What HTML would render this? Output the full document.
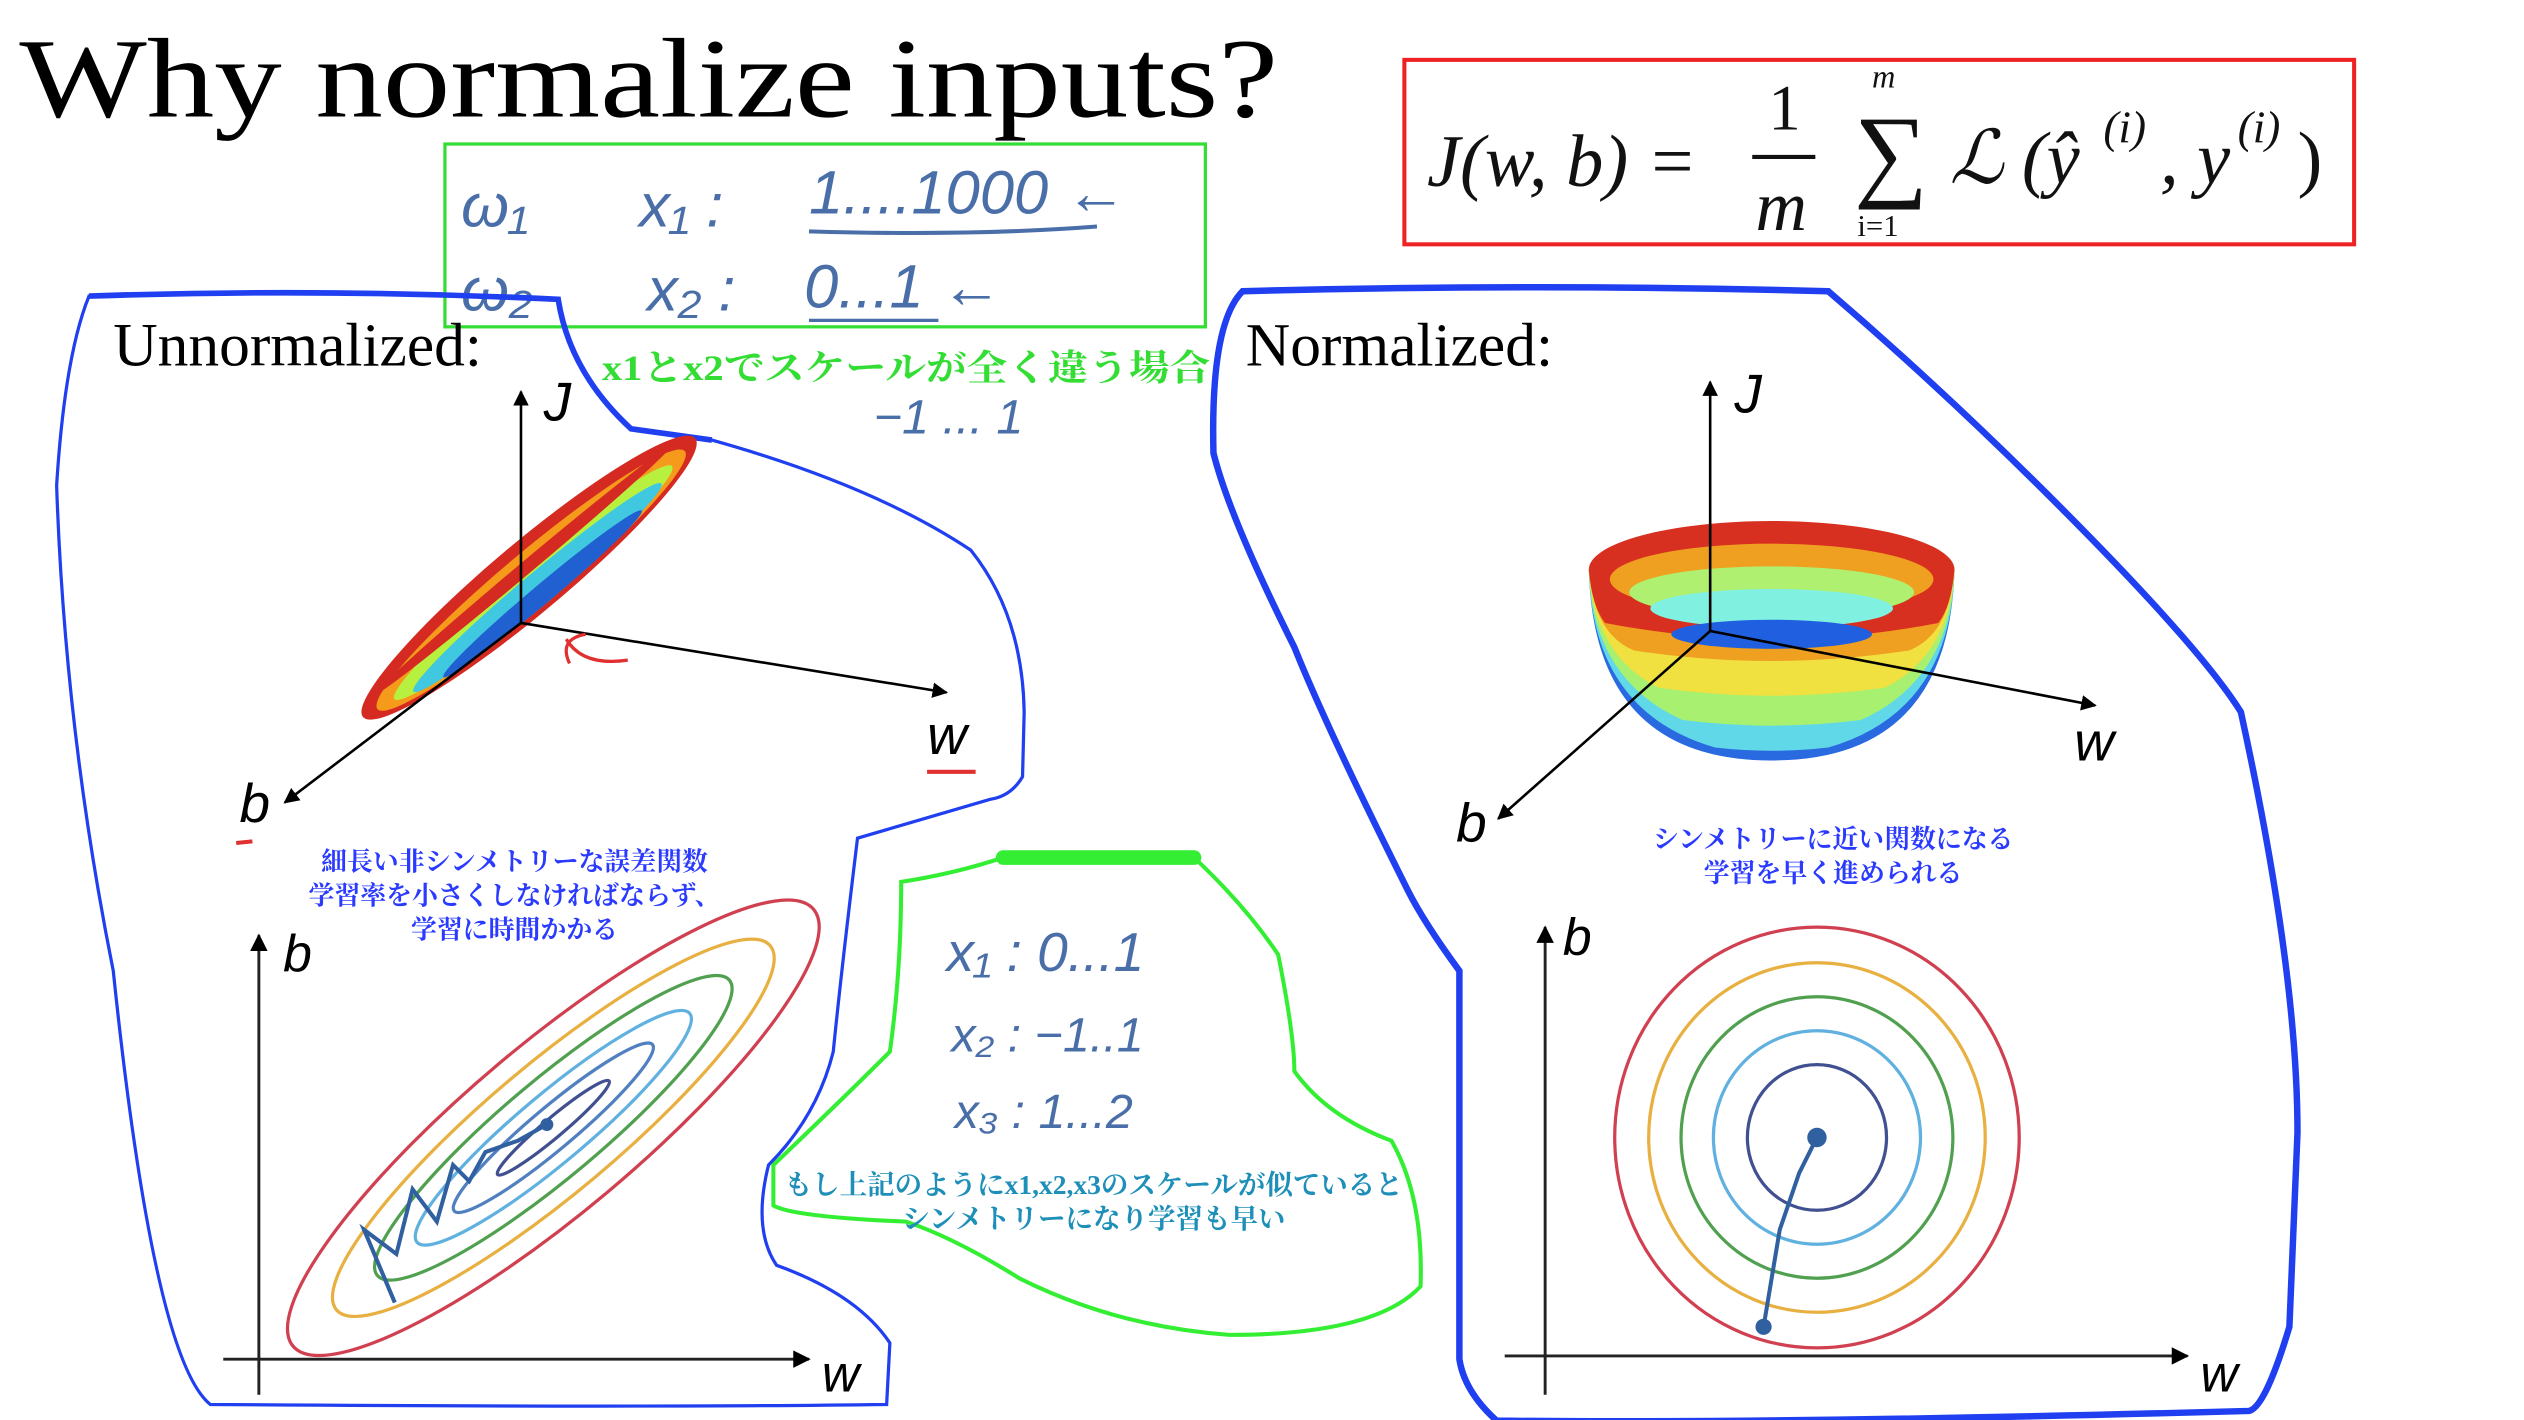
<!DOCTYPE html>
<html><head><meta charset="utf-8"><style>
html,body{margin:0;padding:0;background:#fff;}
svg{display:block;}
.jp{font-family:"Liberation Serif","Noto Serif CJK SC","Noto Sans CJK JP",serif;font-weight:bold;}
.hw{font-family:"Liberation Sans",sans-serif;fill:#4a6fa8;font-style:italic;}
</style></head><body>
<svg width="2524" height="1420" viewBox="0 0 1560 877.6" preserveAspectRatio="none" xmlns="http://www.w3.org/2000/svg">
<defs>
<marker id="ah" viewBox="0 0 10 10" refX="9" refY="5" markerWidth="6" markerHeight="6" orient="auto"><path d="M0,0 L10,5 L0,10 z" fill="#000"/></marker>
</defs>
<rect width="1560" height="877.6" fill="#fff"/>
<text x="12" y="72" font-family="Liberation Serif,serif" font-size="70" textLength="778" lengthAdjust="spacingAndGlyphs">Why normalize inputs?</text>
<rect x="868" y="37" width="587" height="114" fill="none" stroke="#ee2222" stroke-width="2.5"/>
<g font-family="Liberation Serif,serif" font-style="italic" fill="#111">
<text x="882" y="115" font-size="46">J(w, b) =</text>
<text x="1093" y="80" font-size="40" font-style="normal">1</text>
<line x1="1083" y1="97" x2="1122" y2="97" stroke="#111" stroke-width="2.5"/>
<text x="1085" y="142" font-size="44">m</text>
<text x="1146" y="116" font-size="64" font-style="normal">∑</text>
<text x="1157" y="54" font-size="20">m</text>
<text x="1148" y="146" font-size="19" font-style="normal">i=1</text>
<text x="1205" y="113" font-size="46">ℒ (ŷ</text>
<text x="1300" y="88" font-size="28">(i)</text>
<text x="1335" y="113" font-size="46">, y</text>
<text x="1383" y="88" font-size="28">(i)</text>
<text x="1420" y="113" font-size="46" font-style="normal">)</text>
</g>
<rect x="275" y="89" width="470" height="113" fill="none" stroke="#33dd33" stroke-width="2"/>
<g class="hw" font-size="38">
<text x="285" y="140">ω₁</text><text x="395" y="140">x₁ :</text><text x="500" y="132">1....1000 ←</text>
<text x="285" y="192">ω₂</text><text x="400" y="192">x₂ :</text><text x="497" y="190">0...1 ←</text>
<text x="540" y="268" font-size="30">−1 ... 1</text>
</g>
<path d="M500,143 Q600,146 678,140" stroke="#4a6fa8" stroke-width="2.5" fill="none"/>
<path d="M500,198 L580,198" stroke="#4a6fa8" stroke-width="2" fill="none"/>
<text x="372" y="235" class="jp" font-size="22" fill="#33dd33" textLength="376" lengthAdjust="spacingAndGlyphs">x1とx2でスケールが全く違う場合</text>
<path d="M55,183 Q200,178 345,185 Q352,230 390,265 L440,272 Q540,300 600,340 Q632,380 633,440 L632,480 Q625,492 612,494 L530,518 Q520,600 515,650 Q505,690 475,720 Q465,760 480,782 Q530,800 550,830 L548,868 Q400,870 130,868 Q95,840 70,600 Q40,450 35,300 Q40,220 55,183 Z" fill="none" stroke="#1f3ff0" stroke-width="2"/>
<path d="M55,183 Q200,178 345,185 Q352,230 390,265 L440,272" fill="none" stroke="#1f3ff0" stroke-width="3.5"/>
<path d="M768,180 Q950,175 1130,180 Q1200,240 1270,310 Q1360,400 1385,440 Q1420,600 1420,700 L1415,820 Q1400,870 1390,872 Q1100,880 925,878 Q905,860 902,840 L902,600 Q880,570 870,550 Q820,450 800,400 Q760,320 750,280 Q748,200 768,180 Z" fill="none" stroke="#1f3ff0" stroke-width="4"/>
<path d="M620,530 L738,530 Q770,560 790,590 Q800,640 800,662 Q820,690 860,705 Q880,740 878,795 Q850,825 760,825 Q690,820 630,790 Q590,765 560,755 Q490,752 478,745 L478,720 Q520,680 550,650 Q557,600 557,545 Q590,540 620,530 Z" fill="none" stroke="#33ee33" stroke-width="2.5"/>
<path d="M620,530 L738,530" stroke="#33ee33" stroke-width="9" stroke-linecap="round"/>
<g class="hw" font-size="34">
<text x="585" y="600">x₁ : 0...1</text>
<text x="588" y="650" font-size="30">x₂ : −1..1</text>
<text x="590" y="697" font-size="30">x₃ : 1...2</text>
</g>
<g class="jp" font-size="17" fill="#1e8fb8" text-anchor="middle">
<text x="676" y="738">もし上記のようにx1,x2,x3のスケールが似ていると</text>
<text x="676" y="759">シンメトリーになり学習も早い</text>
</g>
<text x="70" y="226" font-family="Liberation Serif,serif" font-size="38">Unnormalized:</text>
<text x="770" y="226" font-family="Liberation Serif,serif" font-size="38">Normalized:</text>
<g transform="translate(327,357) rotate(-40)">
<ellipse rx="134" ry="22" fill="#d42a22"/>
<ellipse rx="124" ry="17" cy="2" fill="#f59a1a"/>
<ellipse rx="112" ry="12" cy="4" fill="#b8f040"/>
<ellipse rx="100" ry="9" cy="8" fill="#40c8e0"/>
<ellipse rx="80" ry="6" cy="13" fill="#2060d0"/>
<ellipse rx="120" ry="4" cy="-6" fill="#d42a22"/>
</g>
<g stroke="#000" stroke-width="1.6" fill="none">
<line x1="322" y1="385" x2="322" y2="242" marker-end="url(#ah)"/>
<line x1="322" y1="385" x2="585" y2="428" marker-end="url(#ah)"/>
<line x1="322" y1="385" x2="176" y2="496" marker-end="url(#ah)"/>
</g>
<g font-family="Liberation Sans,sans-serif" font-style="italic" font-size="34">
<text x="336" y="260">J</text><text x="573" y="466">w</text><text x="148" y="508">b</text>
</g>
<path d="M352,410 Q345,395 362,392 M350,395 Q360,412 388,408" stroke="#e03030" stroke-width="2" fill="none"/>
<line x1="573" y1="477" x2="603" y2="477" stroke="#e03030" stroke-width="2.5"/>
<line x1="146" y1="521" x2="156" y2="520" stroke="#e03030" stroke-width="2.5"/>
<g class="jp" font-size="16" fill="#2a3aff" text-anchor="middle">
<text x="318" y="538">細長い非シンメトリーな誤差関数</text>
<text x="318" y="559">学習率を小さくしなければならず、</text>
<text x="318" y="580">学習に時間かかる</text>
</g>
<g stroke="#222" stroke-width="1.8" fill="none">
<line x1="160" y1="862" x2="160" y2="578" marker-end="url(#ah)"/>
<line x1="138" y1="840" x2="500" y2="840" marker-end="url(#ah)"/>
</g>
<g font-family="Liberation Sans,sans-serif" font-style="italic" font-size="32">
<text x="175" y="600">b</text><text x="508" y="860">w</text>
</g>
<g transform="translate(342,697) rotate(-40)" fill="none" stroke-width="2">
<ellipse rx="210" ry="52" stroke="#d04050"/>
<ellipse rx="175" ry="40" stroke="#e8b040"/>
<ellipse rx="142" ry="30" stroke="#50a050"/>
<ellipse rx="110" ry="21" stroke="#60b0e0"/>
<ellipse rx="80" ry="13" stroke="#5080c0"/>
<ellipse rx="45" ry="6" stroke="#405090"/>
</g>
<path d="M244,805 L225,760 L245,775 L255,735 L270,755 L280,720 L290,730 L300,712 L320,705 L338,695" stroke="#3060a0" stroke-width="2.5" fill="none"/>
<circle cx="338" cy="695" r="4" fill="#3060a0"/>
<path d="M982,352 Q985,470 1095,470 Q1205,470 1208,352 Z" fill="#2a6ae0"/>
<path d="M982,352 Q984,440 1060,462 Q1095,466 1130,462 Q1206,440 1208,352 Z" fill="#60d8e8"/>
<path d="M982,352 Q984,420 1040,445 Q1095,452 1150,445 Q1206,420 1208,352 Z" fill="#a8f070"/>
<path d="M982,352 Q985,405 1025,425 Q1095,435 1165,425 Q1205,405 1208,352 Z" fill="#f0e040"/>
<path d="M982,352 Q985,392 1010,402 Q1095,415 1180,402 Q1205,392 1208,352 Z" fill="#f0a020"/>
<path d="M982,352 Q984,375 992,385 Q1095,405 1198,385 Q1206,375 1208,352 Z" fill="#d83020"/>
<ellipse cx="1095" cy="352" rx="113" ry="30" fill="#d83020"/>
<ellipse cx="1095" cy="358" rx="100" ry="22" fill="#f0a020"/>
<ellipse cx="1095" cy="366" rx="88" ry="16" fill="#b0f070"/>
<ellipse cx="1095" cy="376" rx="75" ry="12" fill="#80f0e0"/>
<ellipse cx="1095" cy="392" rx="62" ry="9" fill="#2060e0"/>
<g stroke="#000" stroke-width="1.6" fill="none">
<line x1="1057" y1="390" x2="1057" y2="236" marker-end="url(#ah)"/>
<line x1="1057" y1="390" x2="1295" y2="436" marker-end="url(#ah)"/>
<line x1="1057" y1="390" x2="926" y2="506" marker-end="url(#ah)"/>
</g>
<g font-family="Liberation Sans,sans-serif" font-style="italic" font-size="34">
<text x="1072" y="255">J</text><text x="1282" y="470">w</text><text x="900" y="520">b</text>
</g>
<g class="jp" font-size="16" fill="#2a3aff" text-anchor="middle">
<text x="1133" y="524">シンメトリーに近い関数になる</text>
<text x="1133" y="545">学習を早く進められる</text>
</g>
<g stroke="#222" stroke-width="1.8" fill="none">
<line x1="955" y1="862" x2="955" y2="573" marker-end="url(#ah)"/>
<line x1="930" y1="838" x2="1352" y2="838" marker-end="url(#ah)"/>
</g>
<g font-family="Liberation Sans,sans-serif" font-style="italic" font-size="32">
<text x="966" y="590">b</text><text x="1360" y="860">w</text>
</g>
<g fill="none" stroke-width="2">
<ellipse cx="1123" cy="703" rx="125" ry="130" stroke="#d04050"/>
<ellipse cx="1123" cy="703" rx="104" ry="108" stroke="#e8b040"/>
<ellipse cx="1123" cy="703" rx="84" ry="87" stroke="#50a050"/>
<ellipse cx="1123" cy="703" rx="64" ry="66" stroke="#60b0e0"/>
<ellipse cx="1123" cy="703" rx="43" ry="45" stroke="#405090"/>
</g>
<path d="M1090,820 L1100,760 L1112,725 L1123,703" stroke="#3060a0" stroke-width="2.5" fill="none"/>
<circle cx="1090" cy="820" r="5" fill="#3060a0"/>
<circle cx="1123" cy="703" r="6" fill="#3060a0"/>
</svg>
</body></html>
